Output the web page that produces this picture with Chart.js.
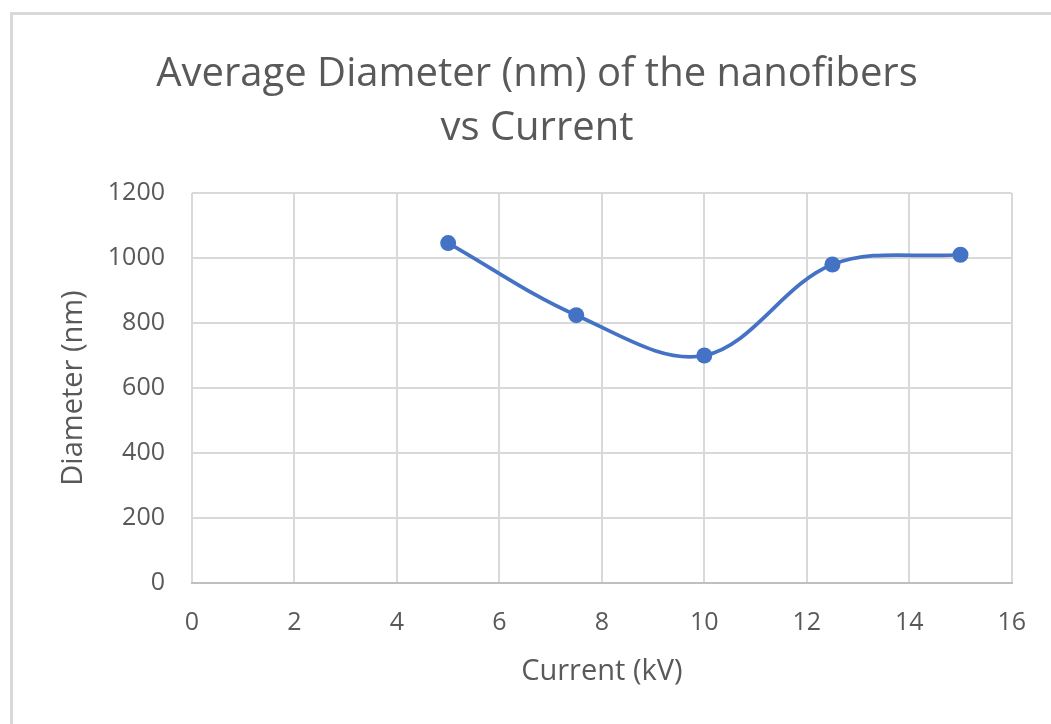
<!DOCTYPE html>
<html>
<head>
<meta charset="utf-8">
<script src="https://cdn.jsdelivr.net/npm/chart.js@4/dist/chart.umd.min.js"></script>
<style>
    html, body { margin: 0; padding: 0; background: #fff; overflow: hidden; }
    #frame {
        position: absolute; left: 10px; top: 12px; width: 1200px; height: 900px;
        border-left: 3px solid #d9d9d9; border-top: 3px solid #d9d9d9;
    }
    #diameter-chart { position: absolute; left: 0; top: 0; }
</style>
</head>
<body>
<div id="frame"></div>
<canvas id="diameter-chart" width="1051" height="724"></canvas>
<script>
// Current (kV) vs average fibre diameter (nm)
const currentKV = [5, 7.5, 10, 12.5, 15];
const diameterNm = [1046, 824, 700, 980, 1010];

const xTicks = { min: 0, max: 16, step: 2 };
const yTicks = { min: 0, max: 1200, step: 200 };

const textColor = '#595959';
const gridColor = '#d9d9d9';
const seriesColor = '#4472c4';

document.addEventListener('DOMContentLoaded', () => {
    const ctx = document.getElementById('diameter-chart').getContext('2d');
    const points = currentKV.map((x, i) => ({ x: x, y: diameterNm[i] }));

    new Chart(ctx, {
        type: 'line',
        data: {
            datasets: [{
                label: 'Diameter',
                data: points,
                borderColor: seriesColor,
                backgroundColor: seriesColor,
                borderWidth: 3.75,
                pointRadius: 8,
                pointBorderWidth: 0,
                tension: 0.35,
                fill: false
            }]
        },
        options: {
            responsive: false,
            animation: false,
            devicePixelRatio: 1,
            // left padding keeps the title centred over the plot like the original sheet chart
            layout: { padding: { left: 61, right: 38, top: 0, bottom: 0 } },
            plugins: {
                legend: { display: false },
                tooltip: { enabled: false },
                title: {
                    display: true,
                    text: ['Average Diameter (nm) of the nanofibers', 'vs Current'],
                    color: textColor,
                    font: { family: 'Open Sans', size: 40, weight: 'normal', lineHeight: 1.35 },
                    padding: { top: 48, bottom: 37 }
                }
            },
            scales: {
                x: {
                    type: 'linear',
                    min: xTicks.min,
                    max: xTicks.max,
                    ticks: {
                        stepSize: xTicks.step,
                        color: textColor,
                        font: { family: 'Open Sans', size: 25 },
                        padding: 25,
                        callback: v => String(v)
                    },
                    grid: { color: gridColor, lineWidth: 2, drawTicks: false },
                    border: { display: true, color: '#bfbfbf', width: 2 },
                    title: {
                        display: true,
                        text: 'Current (kV)',
                        color: textColor,
                        font: { family: 'Open Sans', size: 29, lineHeight: 1 },
                        padding: { top: 0, bottom: 38 }
                    },
                    afterFit: scale => { scale.height = 141; }
                },
                y: {
                    type: 'linear',
                    min: yTicks.min,
                    max: yTicks.max,
                    ticks: {
                        stepSize: yTicks.step,
                        color: textColor,
                        font: { family: 'Open Sans', size: 25 },
                        padding: 27,
                        callback: v => String(v)
                    },
                    grid: { color: gridColor, lineWidth: 2, drawTicks: false },
                    border: { display: false },
                    title: {
                        display: true,
                        text: 'Diameter (nm)',
                        color: textColor,
                        font: { family: 'Open Sans', size: 29, lineHeight: 1 },
                        padding: { top: -2, bottom: 0 }
                    },
                    afterFit: scale => { scale.width = 131; }
                }
            }
        }
    });
});
</script>
</body>
</html>
